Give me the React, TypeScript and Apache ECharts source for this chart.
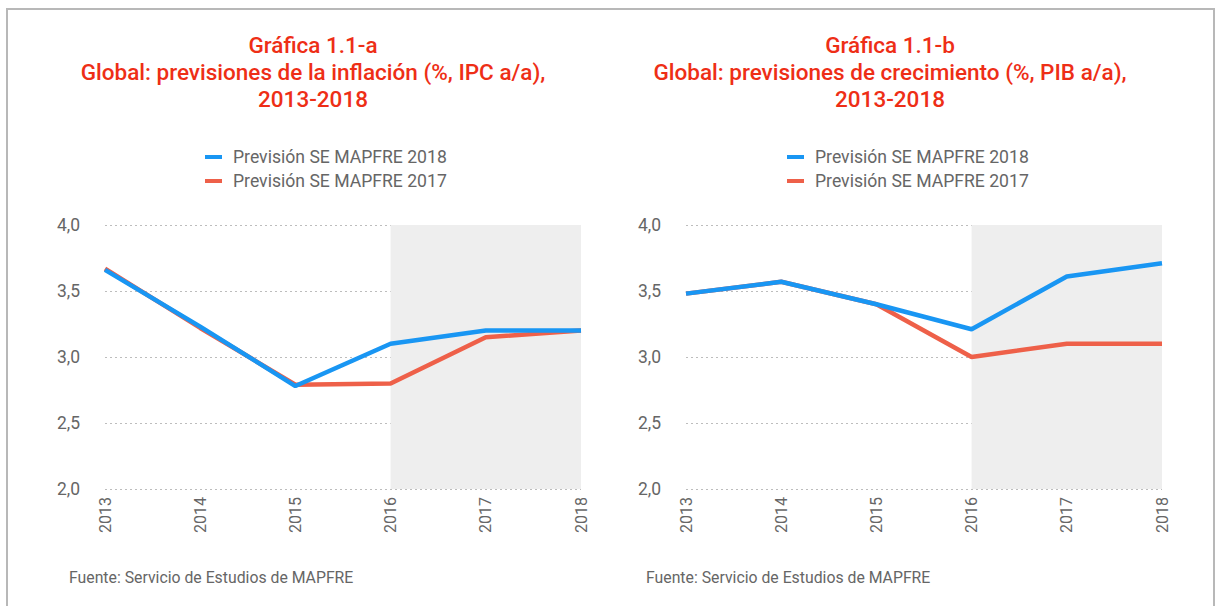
import React, { useEffect, useRef } from "react";
import * as echarts from "echarts";

const years = ["2013", "2014", "2015", "2016", "2017", "2018"];
const yTicks = [2.0, 2.5, 3.0, 3.5, 4.0];
const seriesNames = ["Previsión SE MAPFRE 2018", "Previsión SE MAPFRE 2017"];

const inflation2018 = [3.66, 3.23, 2.78, 3.1, 3.2, 3.2];
const inflation2017 = [3.67, 3.22, 2.79, 2.8, 3.15, 3.2];
const growth2018 = [3.48, 3.57, 3.4, 3.21, 3.61, 3.71];
const growth2017 = [3.48, 3.57, 3.4, 3.0, 3.1, 3.1];

const titleA = "Gráfica 1.1-a\nGlobal: previsiones de la inflación (%, IPC a/a),\n2013-2018";
const titleB = "Gráfica 1.1-b\nGlobal: previsiones de crecimiento (%, PIB a/a),\n2013-2018";
const sourceText = "Fuente: Servicio de Estudios de MAPFRE";
const forecastStart = "2016";
const forecastEnd = "2018";

const BLUE = "#1996f3";
const RED = "#ee6049";
const RED_TITLE = "#ee2e16";
const GRAY_TXT = "#666666";
const FONT = "Roboto, 'Noto Sans', sans-serif";

export default function App() {
  const ref = useRef<HTMLDivElement>(null);
  useEffect(() => {
    document.body.style.margin = "0";
    if (!ref.current) return;
    const chart = echarts.init(ref.current, undefined, { renderer: "svg" });

    const yAxisCommon = (gridIndex: number) => ({
      type: "value",
      gridIndex,
      min: yTicks[0],
      max: yTicks[yTicks.length - 1],
      interval: 0.5,
      axisLine: { show: false },
      axisTick: { show: false },
      axisLabel: {
        color: GRAY_TXT,
        fontSize: 17.5,
        fontFamily: FONT,
        margin: 25,
        formatter: (v: number) => v.toFixed(1).replace(".", ","),
      },
      splitLine: { lineStyle: { color: "#bdbdbd", type: [2, 3], width: 1 } },
    });
    const xAxisCommon = (gridIndex: number) => ({
      type: "category",
      gridIndex,
      data: years,
      boundaryGap: false,
      axisLine: { show: false },
      axisTick: { show: false },
      axisLabel: {
        color: GRAY_TXT,
        fontSize: 16,
        fontFamily: FONT,
        rotate: 90,
        margin: 8,
      },
      splitLine: { show: false },
    });
    const lineSeries = (name: string, data: number[], color: string, idx: number, withArea: boolean) => ({
      name,
      type: "line",
      xAxisIndex: idx,
      yAxisIndex: idx,
      data,
      symbol: "none",
      lineStyle: { color, width: 4.5 },
      itemStyle: { color },
      z: color === BLUE ? 3 : 2,
      markArea: withArea
        ? {
            silent: true,
            itemStyle: { color: "#eeeeee" },
            data: [[{ xAxis: forecastStart }, { xAxis: forecastEnd }]],
          }
        : undefined,
    });
    const legendCommon = (left: number) => ({
      orient: "vertical",
      left,
      top: 148,
      padding: 0,
      icon: "rect",
      itemWidth: 17,
      itemHeight: 4,
      itemGap: 6,
      data: seriesNames,
      selectedMode: false,
      textStyle: { color: GRAY_TXT, fontSize: 17.6, fontFamily: FONT, padding: [0, 0, 0, 6] },
    });
    const titleCommon = (left: number, text: string) => ({
      text,
      left,
      top: 31,
      padding: 0,
      textAlign: "center",
      textStyle: {
        color: RED_TITLE,
        fontSize: 22.5,
        fontWeight: 500,
        fontFamily: FONT,
        lineHeight: 27,
        align: "center",
      },
    });

    chart.setOption({
      animation: false,
      backgroundColor: "#ffffff",
      title: [titleCommon(313, titleA), titleCommon(890, titleB)],
      legend: [legendCommon(205), legendCommon(787)],
      grid: [
        { left: 105, right: 640, top: 225, bottom: 117 },
        { left: 686, right: 59, top: 225, bottom: 117 },
      ],
      xAxis: [xAxisCommon(0), xAxisCommon(1)],
      yAxis: [yAxisCommon(0), yAxisCommon(1)],
      series: [
        lineSeries(seriesNames[1], inflation2017, RED, 0, true),
        lineSeries(seriesNames[0], inflation2018, BLUE, 0, false),
        lineSeries(seriesNames[1], growth2017, RED, 1, true),
        lineSeries(seriesNames[0], growth2018, BLUE, 1, false),
      ],
      graphic: [
        {
          type: "rect",
          shape: { x: 7, y: 9, width: 1207, height: 620 },
          style: { fill: "none", stroke: "#b8b8b8", lineWidth: 2 },
          silent: true,
        },
        {
          type: "text",
          x: 69,
          y: 569,
          style: { text: sourceText, fill: GRAY_TXT, fontSize: 15.8, fontFamily: FONT },
        },
        {
          type: "text",
          x: 646,
          y: 569,
          style: { text: sourceText, fill: GRAY_TXT, fontSize: 15.8, fontFamily: FONT },
        },
      ],
    });
    return () => chart.dispose();
  }, []);
  return <div ref={ref} style={{ width: 1221, height: 606 }} />;
}
